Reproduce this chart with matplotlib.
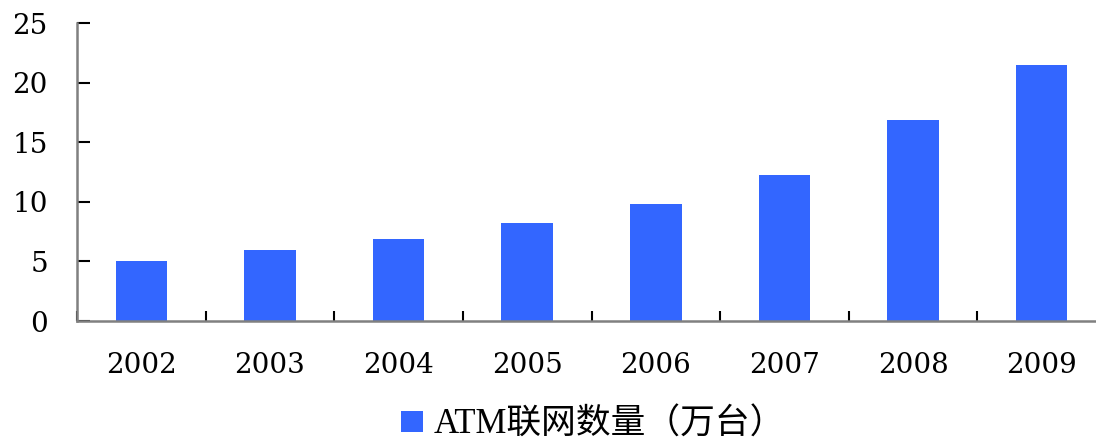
import numpy as np
from matplotlib import pyplot as plt

# ATM networked units per year (10k units)
years = ['2002', '2003', '2004', '2005', '2006', '2007', '2008', '2009']
atm_count = [5.0, 6.0, 6.9, 8.2, 9.8, 12.3, 16.9, 21.5]
series_label = 'ATM联网数量（万台）'

plt.rcParams['font.family'] = ['DejaVu Serif', 'Noto Sans CJK SC']

def draw_graph(keys, values):
    fig = plt.figure(figsize=(10.96, 4.41), dpi=100)
    ax = fig.add_axes([77 / 1096, 120 / 441, 1029 / 1096, 297.7 / 441])

    x = np.arange(len(keys))
    ax.bar(x, values, width=0.4, color='#3366FF', label=series_label, zorder=1)

    ax.set_xlim(-0.5, len(keys) - 0.5)
    ax.set_ylim(0, 25)
    ax.set_yticks([0, 5, 10, 15, 20, 25])

    # labels centred under each bar, tick marks between categories
    ax.set_xticks(x)
    ax.set_xticklabels(keys)
    ax.set_xticks(np.arange(len(keys) + 1) - 0.5, minor=True)
    ax.tick_params(axis='x', which='major', length=0, pad=22, labelsize=20)
    ax.tick_params(axis='x', which='minor', direction='in', length=7, width=1.5, color='black')
    ax.tick_params(axis='y', direction='in', length=9, width=1.5, color='black', pad=21, labelsize=20)

    for side in ['top', 'right']:
        ax.spines[side].set_visible(False)
    for side in ['left', 'bottom']:
        ax.spines[side].set_color('#808080')
        ax.spines[side].set_linewidth(1.8)

    fig.legend(loc='center', bbox_to_anchor=(0.541, 0.036), frameon=False,
               prop={'family': ['Liberation Serif', 'Noto Sans CJK SC'], 'size': 25},
               handlelength=0.65, handleheight=0.55, handletextpad=0.3)

    fig.savefig('out.png', dpi=100)

draw_graph(years, atm_count)
